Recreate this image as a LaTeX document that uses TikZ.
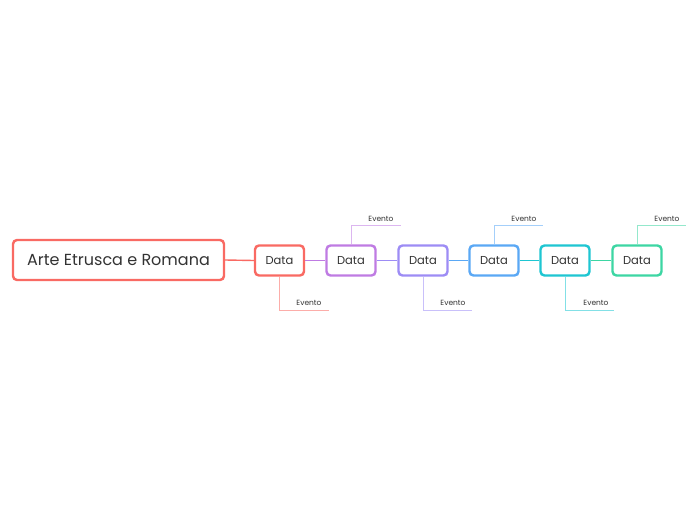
\documentclass[tikz,border=0pt]{standalone}
\usepackage{fontspec}
\setmainfont{Poppins}
\definecolor{cR}{HTML}{F96A63}
\definecolor{cP}{HTML}{BF7BE3}
\definecolor{cL}{HTML}{9D8CF5}
\definecolor{cB}{HTML}{5AA8F5}
\definecolor{cC}{HTML}{1EC6D2}
\definecolor{cG}{HTML}{3DD6A3}
\definecolor{ink}{HTML}{333333}
\tikzset{
  x=1pt, y=-1pt,
  rootbox/.style={draw=#1, line width=2.4pt, rounded corners=4pt, fill=white,
    minimum width=211pt, minimum height=40pt, inner sep=0pt,
    font=\fontsize{16}{19}\selectfont, text=ink},
  databox/.style={draw=#1, line width=2.4pt, rounded corners=4pt, fill=white,
    minimum width=49pt, minimum height=30pt, inner sep=0pt,
    font=\fontsize{11.5}{14}\selectfont, text=ink},
  link/.style={draw=#1, line width=1.4pt},
  evline/.style={draw=#1!55, line width=0.8pt},
  evtext/.style={font=\fontsize{7.5}{9}\selectfont, text=ink, inner sep=0pt, anchor=south}
}
\begin{document}
\begin{tikzpicture}
\useasboundingbox[fill=white] (0,0) rectangle (697,520);
\node[rootbox=cR] (root) at (118.5,260) {Arte Etrusca e Romana};
\node[databox=cR] (d1) at (279.5,260.5) {Data};
\node[databox=cP] (d2) at (351,260.5) {Data};
\node[databox=cL] (d3) at (423,260.5) {Data};
\node[databox=cB] (d4) at (494,260.5) {Data};
\node[databox=cC] (d5) at (565,260.5) {Data};
\node[databox=cG] (d6) at (637,260.5) {Data};
% links
\draw[link=cR] (root.east) -- (d1.west);
\draw[link=cP] (d1.east) -- (d2.west);
\draw[link=cL] (d2.east) -- (d3.west);
\draw[link=cB] (d3.east) -- (d4.west);
\draw[link=cC] (d4.east) -- (d5.west);
\draw[link=cG] (d5.east) -- (d6.west);
% event corners
\coordinate (e1) at (329,310.7);
\coordinate (e2) at (400.7,225.7);
\coordinate (e3) at (471.7,310.7);
\coordinate (e4) at (542.5,225.7);
\coordinate (e5) at (614,310.7);
\coordinate (e6) at (685.5,225.7);
\draw[evline=cR] (d1.south) |- (e1);
\draw[evline=cP] (d2.north) |- (e2);
\draw[evline=cL] (d3.south) |- (e3);
\draw[evline=cB] (d4.north) |- (e4);
\draw[evline=cC] (d5.south) |- (e5);
\draw[evline=cG] (d6.north) |- (e6);
\node[evtext] (t1) at (309,305.5) {Evento};
\node[evtext] (t2) at (381,221.5) {Evento};
\node[evtext] (t3) at (453,305.5) {Evento};
\node[evtext] (t4) at (524,221.5) {Evento};
\node[evtext] (t5) at (596,305.5) {Evento};
\node[evtext] (t6) at (667,221.5) {Evento};
\end{tikzpicture}
\end{document}
